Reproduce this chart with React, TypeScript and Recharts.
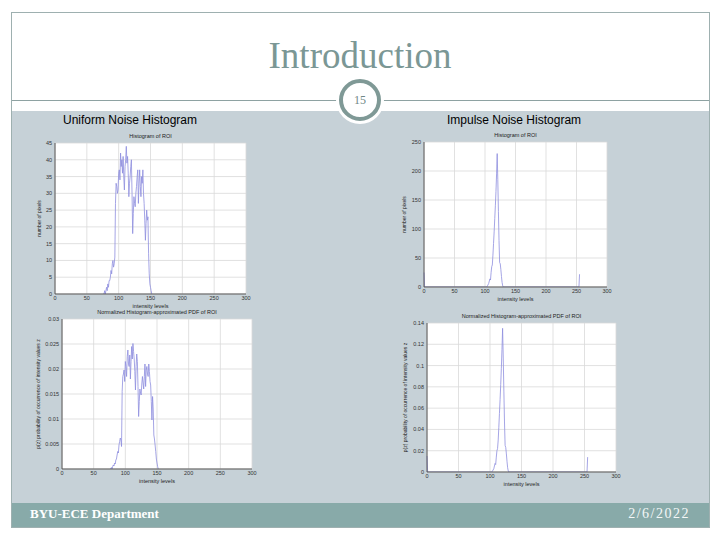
import { LineChart, Line, XAxis, YAxis, CartesianGrid } from 'recharts';

// intensity levels 76..152 for the uniform noise image
const uniformLevels = [
  76, 77, 78, 79, 80, 81, 82, 83, 84, 85,
  86, 87, 88, 89, 90, 91, 92, 93, 94, 95,
  96, 97, 98, 99, 100, 101, 102, 103, 104, 105,
  106, 107, 108, 109, 110, 111, 112, 113, 114, 115,
  116, 117, 118, 119, 120, 121, 122, 123, 124, 125,
  126, 127, 128, 129, 130, 131, 132, 133, 134, 135,
  136, 137, 138, 139, 140, 141, 142, 143, 144, 145,
  146, 147, 148, 149, 150, 151, 152,
];
const uniformCounts = [
  0, 0, 1, 0, 1, 2, 1, 3, 2, 4,
  4, 5, 7, 6, 9, 10, 8, 9, 11, 27,
  33, 32, 30, 31, 36, 37, 34, 42, 38, 40,
  36, 41, 35, 31, 38, 40, 44, 39, 41, 36,
  29, 33, 35, 38, 40, 30, 18, 24, 29, 27,
  26, 30, 32, 35, 37, 27, 33, 37, 32, 29,
  35, 33, 37, 30, 27, 22, 16, 21, 25, 22,
  23, 12, 6, 3, 2, 1, 0,
];
const uniformPdf = [
  0, 0, 0.0003, 0, 0.0005, 0.0008, 0.0006, 0.0012, 0.001, 0.0018,
  0.002, 0.0028, 0.0035, 0.0032, 0.0048, 0.0055, 0.0062, 0.0058, 0.0045, 0.0155,
  0.0185, 0.019, 0.0198, 0.0175, 0.0215, 0.0205, 0.0185, 0.0225, 0.0238, 0.021,
  0.0205, 0.0228, 0.018, 0.0215, 0.0245, 0.022, 0.0251, 0.0235, 0.022, 0.0195,
  0.0158, 0.0205, 0.023, 0.0215, 0.0165, 0.0105, 0.0135, 0.016, 0.0152, 0.0148,
  0.017, 0.0185, 0.0172, 0.016, 0.0185, 0.021, 0.0165, 0.0198, 0.0205, 0.019,
  0.0185, 0.021, 0.0195, 0.0175, 0.0168, 0.0135, 0.0098, 0.0145, 0.012, 0.0068,
  0.006, 0.0048, 0.0035, 0.002, 0.0012, 0.0005, 0,
];

// impulse (salt & pepper) noise image
const impulseLevels = [
  0, 1, 103, 104, 106, 108, 109, 110, 111, 112,
  113, 114, 115, 116, 117, 118, 119, 120, 121, 122,
  123, 124, 125, 126, 127, 128, 129, 130, 254, 255,
];
const impulseCounts = [
  25, 0, 0, 2, 6, 14, 12, 25, 35, 38,
  55, 75, 95, 118, 140, 165, 195, 230, 185, 130,
  80, 42, 40, 30, 18, 8, 2, 0, 0, 22,
];
const impulsePdf = [
  0.015, 0, 0, 0.001, 0.003, 0.008, 0.007, 0.014, 0.02, 0.022,
  0.03, 0.042, 0.055, 0.068, 0.082, 0.097, 0.115, 0.135, 0.108, 0.076,
  0.047, 0.025, 0.023, 0.017, 0.01, 0.004, 0.001, 0, 0, 0.014,
];

const xTicks = [0, 50, 100, 150, 200, 250, 300];
const countTicksUniform = [0, 5, 10, 15, 20, 25, 30, 35, 40, 45];
const countTicksImpulse = [0, 50, 100, 150, 200, 250];
const pdfTicksUniform = [0, 0.005, 0.01, 0.015, 0.02, 0.025, 0.03];
const pdfTicksImpulse = [0, 0.02, 0.04, 0.06, 0.08, 0.1, 0.12, 0.14];

const toRows = (xs: number[], ys: number[]) => xs.map((x, i) => ({ x, y: ys[i] }));

const FONT = '"Liberation Sans", Arial, sans-serif';
const tick = { fontSize: 5.5, fill: '#333', fontFamily: FONT };

interface PanelProps {
  left: number; top: number; plotW: number; plotH: number;
  rows: { x: number; y: number }[];
  yTicks: number[];
  title: string;
  yLabel: string;
  labelGap: number;
}

const Panel = ({ left, top, plotW, plotH, rows, yTicks, title, yLabel, labelGap }: PanelProps) => {
  const yMax = yTicks[yTicks.length - 1];
  return (
    <div style={{ position: 'absolute', left: left - 30, top: top - 15 }}>
      <div style={{
        position: 'absolute', left: 30, top: 5, width: plotW, textAlign: 'center',
        fontSize: 5.5, fontFamily: FONT, color: '#222', whiteSpace: 'nowrap',
      }}>{title}</div>
      <LineChart
        width={plotW + 40}
        height={plotH + 35}
        data={rows}
        margin={{ top: 15, right: 10, bottom: 0, left: 0 }}
      >
        <CartesianGrid stroke="#d9d9d9" fill="#fff" strokeWidth={0.8} />
        <XAxis
          dataKey="x" type="number" domain={[0, 300]} ticks={xTicks}
          height={20} tick={tick} tickLine={false} tickSize={2} axisLine={{ stroke: '#555' }}
          tickMargin={0} interval={0}
          label={{ value: 'intensity levels', position: 'insideBottom', offset: 6, style: { fontSize: 5.5, fill: '#222', fontFamily: FONT } }}
        />
        <YAxis
          type="number" domain={[0, yMax]} ticks={yTicks} width={30}
          tick={tick} tickLine={false} tickSize={2} axisLine={{ stroke: '#555' }} tickMargin={1} interval={0}
          allowDataOverflow
          label={{ value: yLabel, angle: -90, position: 'center', dx: 15 - labelGap, style: { fontSize: 5, fill: '#222', fontFamily: FONT } }}
        />
        <Line
          type="linear" dataKey="y" stroke="#8e8ede" strokeWidth={0.8}
          dot={false} isAnimationActive={false}
        />
      </LineChart>
    </div>
  );
};

const App = () => {
  return (
    <div style={{ position: 'absolute', left: 0, top: 0, width: 720, height: 540, background: '#fff', overflow: 'hidden' }}>
      {/* slide frame */}
      <div style={{ position: 'absolute', left: 11, top: 12, width: 697, height: 514, border: '1px solid #9eb0b0' }} />
      <div style={{ position: 'absolute', left: 12, top: 111, width: 697, height: 392, background: '#c6d1d7' }} />
      <div style={{ position: 'absolute', left: 12, top: 100, width: 697, height: 1, background: '#8ea2a2' }} />
      <div style={{ position: 'absolute', left: 12, top: 503, width: 697, height: 24, background: '#88aaa9' }} />

      <div style={{
        position: 'absolute', left: 0, top: 34, width: 720, textAlign: 'center',
        fontFamily: '"Liberation Serif", serif', fontSize: 37, color: '#7b9795',
      }}>Introduction</div>

      {/* page number badge */}
      <div style={{
        position: 'absolute', left: 339, top: 79, width: 34, height: 34, borderRadius: '50%',
        border: '4px solid #7f9996', background: '#fff', boxShadow: '0 0 0 3px #fff',
        display: 'flex', alignItems: 'center', justifyContent: 'center',
        fontFamily: '"Liberation Serif", serif', fontSize: 12, color: '#6f8786',
      }}>15</div>

      <div style={{ position: 'absolute', left: 63, top: 113, fontFamily: FONT, fontSize: 12, color: '#000' }}>
        Uniform Noise Histogram
      </div>
      <div style={{ position: 'absolute', left: 447, top: 113, fontFamily: FONT, fontSize: 12, color: '#000' }}>
        Impulse Noise Histogram
      </div>

      <Panel left={55} top={143} plotW={191} plotH={151} rows={toRows(uniformLevels, uniformCounts)}
        yTicks={countTicksUniform} title="Histogram of ROI" yLabel="number of pixels" labelGap={16} />
      <Panel left={424} top={142} plotW={183} plotH={145} rows={toRows(impulseLevels, impulseCounts)}
        yTicks={countTicksImpulse} title="Histogram of ROI" yLabel="number of pixels" labelGap={20} />
      <Panel left={62} top={319} plotW={190} plotH={150} rows={toRows(uniformLevels, uniformPdf)}
        yTicks={pdfTicksUniform} title="Normalized Histogram-approximated PDF of ROI"
        yLabel="p(z) probability of occurrence of intensity values z" labelGap={24} />
      <Panel left={427} top={323} plotW={189} plotH={149} rows={toRows(impulseLevels, impulsePdf)}
        yTicks={pdfTicksImpulse} title="Normalized Histogram-approximated PDF of ROI"
        yLabel="p(z) probability of occurrence of intensity values z" labelGap={22} />

      <div style={{
        position: 'absolute', left: 30, top: 506, fontFamily: '"Liberation Serif", serif',
        fontWeight: 'bold', fontSize: 13, color: '#fff',
      }}>BYU-ECE Department</div>
      <div style={{
        position: 'absolute', right: 30, top: 506, fontFamily: '"Liberation Serif", serif',
        fontSize: 14, letterSpacing: 1.5, color: '#f4f7f7',
      }}>2/6/2022</div>
    </div>
  );
};

export default App;
